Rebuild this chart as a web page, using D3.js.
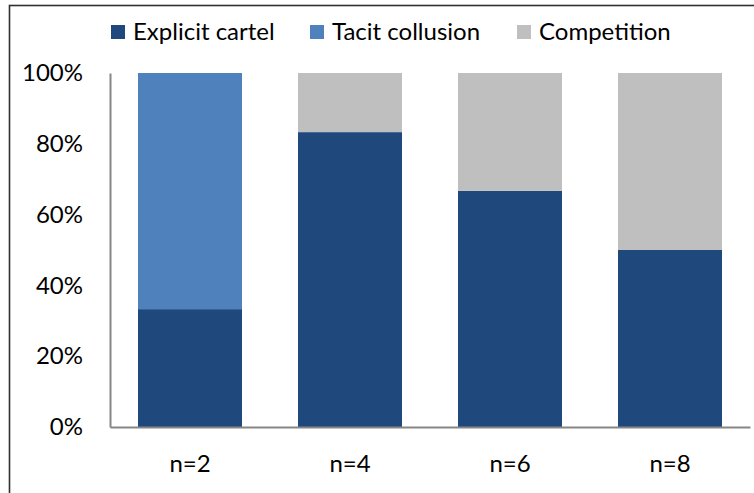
<!DOCTYPE html>
<html><head><meta charset="utf-8">
<script src="https://cdn.jsdelivr.net/npm/d3@7"></script>
<style>body{margin:0;background:#fff}svg{display:block}text{font-family:Lato,sans-serif;fill:#000}</style>
</head><body>
<script>
const categories = ["n=2","n=4","n=6","n=8"];
const seriesNames = ["Explicit cartel","Tacit collusion","Competition"];
const explicitCartel = [0.333,0.833,0.667,0.5];
const tacitCollusion = [0.667,0,0,0];
const competition = [0,0.167,0.333,0.5];
const colors = ["#1F497D","#4F81BD","#BFBFBF"];
const yTicks = [0,0.2,0.4,0.6,0.8,1];

const W=754,H=493;
const svg=d3.select("body").append("svg").attr("width",W).attr("height",H);
svg.append("rect").attr("x",9.5).attr("y",5.5).attr("width",800).attr("height",600)
  .attr("fill","none").attr("stroke","#303030").attr("stroke-width",1.6);

const m={l:110,r:750,t:73,b:427};
const x=d3.scaleBand().domain(categories).range([m.l,m.r]).paddingInner(0.35).paddingOuter(0.175);
const y=d3.scaleLinear().domain([0,1]).range([m.b,m.t]);

const data=categories.map((c,i)=>({cat:c,"Explicit cartel":explicitCartel[i],"Tacit collusion":tacitCollusion[i],"Competition":competition[i]}));
const stack=d3.stack().keys(seriesNames)(data);
svg.append("g").selectAll("g").data(stack).join("g").attr("fill",(d,i)=>colors[i])
  .selectAll("rect").data(d=>d).join("rect")
  .attr("x",d=>x(d.data.cat)).attr("width",x.bandwidth())
  .attr("y",d=>y(d[1])).attr("height",d=>y(d[0])-y(d[1]));

const fs=24;
const ya=svg.append("g").attr("transform",`translate(${m.l},0)`)
  .call(d3.axisLeft(y).tickValues(yTicks).tickFormat(d3.format(".0%")).tickSize(0).tickPadding(27));
ya.select(".domain").attr("stroke","#868686").attr("stroke-width",2);
ya.selectAll("text").attr("font-size",fs).attr("font-family","Lato").attr("fill","#000");
const xa=svg.append("g").attr("transform",`translate(0,${m.b})`)
  .call(d3.axisBottom(x).tickSize(0).tickPadding(28));
xa.select(".domain").attr("stroke","#868686").attr("stroke-width",2);
xa.selectAll("text").attr("font-size",fs).attr("font-family","Lato").attr("fill","#000");

const legX=[111,310,517];
const lg=svg.append("g").selectAll("g").data(seriesNames).join("g")
  .attr("transform",(d,i)=>`translate(${legX[i]},25)`);
lg.append("rect").attr("width",14).attr("height",14).attr("fill",(d,i)=>colors[i]);
lg.append("text").attr("x",22).attr("y",15).attr("font-size",fs).text(d=>d);
</script>
</body></html>
